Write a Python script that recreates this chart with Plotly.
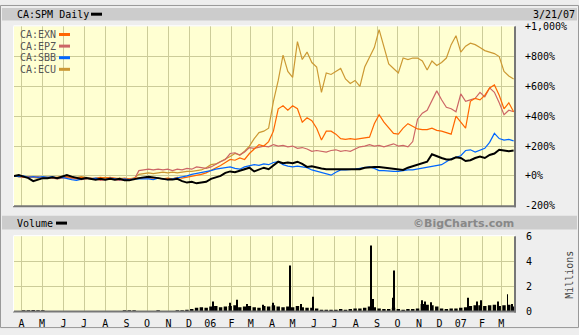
import pandas as pd
import plotly.graph_objects as go

W, H = 579, 335

# ---------------- data ----------------
start_date = "2005-03-21"
end_date = "2007-03-21"
n_weeks = 105
weeks = pd.date_range(start_date, periods=n_weeks, freq="7D")

ecu = [0, -5, -10, -5, -10, -15, -5, -10, -15, -10, -5, -10, -15, -10, -5, -10, -15, -20, -15, -10,
       -15, -20, -15, -20, -25,
       -15, 10, 15, 20, 15, 20, 25, 20, 25, 20, 25, 30, 30, 35, 40, 55,
       75, 80, 95, 110, 130, 150, 140, 165, 200, 250, 290, 300, 320,
       500, 640, 810, 700, 660, 900, 780, 830, 760, 730, 560, 690, 680, 700, 720, 650, 620, 640, 600, 730,
       790, 860, 980, 870, 750, 720, 690, 790, 780, 790, 790, 770, 710, 770, 740, 760, 790, 880, 940, 830,
       870, 890, 880, 860, 840, 830, 820, 800, 700, 670, 650]

exn = [0, -5, -5, -10, -5, -10, -15, -10, -10, -15, -10, -5, -10, -15, -10, -15, -20, -15, -10, -15,
       -10, -15, -20, -15, -20, -15,
       -15, -10, -15, -10, -15, -20, -15, -20, -10, -15, -10, -5, 0, 10, 20,
       35, 50, 70, 90, 110, 105, 120, 110, 150, 180, 210, 200, 230,
       300, 450, 470, 440, 470, 450, 360, 390, 370, 320, 240, 300, 300, 280, 250, 245, 250, 245, 250, 255,
       260, 350, 410, 360, 320, 285, 280, 320, 350, 330, 315, 310, 310, 320, 305, 300, 290,
       280, 400, 360, 320, 500, 520, 510, 540, 590, 610, 540, 450, 490, 430]

epz = [0, -5, -10, -5, -10, -5, -15, -10, -15, -20, -15, -10, -15, -20, -25, -20, -15, -20, -30, -25,
       -20, -25, -30, -25, -20, -25,
       35, 40, 45, 40, 45, 40, 45, 35, 45, 40, 50, 45, 60, 55, 50,
       60, 80, 95, 110, 150, 155, 140, 160, 190, 185, 190, 200, 195,
       210, 200, 205, 195, 200, 185, 190, 180, 165, 170, 165, 160, 170, 175, 165, 170, 165, 180, 195, 200,
       210, 200, 205, 195, 205, 215, 200, 205, 195, 230,
       380, 420, 440, 500, 570, 510, 460, 450, 430, 550, 500, 510, 520, 560, 530, 590, 560, 490, 410, 440, 430]

sbb = [0, -5, 0, -10, -5, -10, -5, -10, -5, -15, -10, -20, -25, -30, -20, -15, -20, -15, -20, -25,
       -15, -20, -25, -20, -25, -20,
       -20, -15, -20, -25, -15, -20, -25, -20, -15, -5, 0, 10, 15, 20, 30,
       35, 45, 50, 55, 60, 50, 45, 60, 70, 75, 70, 80, 75,
       90, 95, 75, 65, 60, 65, 60, 55, 40, 30, 20, 10, 5, 25, 40, 40, 40, 45, 50, 55,
       60, 50, 35, 35, 30, 30, 30, 35, 40, 40, 45, 50, 60, 65, 70, 75, 95,
       115, 125, 135, 170, 175, 160, 170, 185, 225, 285, 250, 240, 245, 235]

spm = [0, 5, -5, -15, -35, -25, -15, -15, -10, -15, -5, 5, -5, -10, -20, -15, -20, -25, -20, -25,
       -20, -25, -20, -30, -30, -20,
       -15, -10, -5, -10, -15, -20, -25, -25, -20, -35, -45, -40, -50, -45, -40,
       -20, -10, 0, 20, 30, 25, 35, 40, 55, 30, 40, 55, 45,
       70, 95, 85, 90, 85, 95, 80, 60, 65, 55, 50, 45, 45, 50, 45, 45, 45, 50, 45, 55,
       60, 60, 60, 55, 50, 45, 40, 40, 55, 65, 75, 85, 95, 145, 130, 120, 110,
       110, 125, 120, 100, 105, 120, 130, 120, 140, 150, 175, 170, 165, 170]

volume = [0.03, 0.03, 0.04, 0.05, 0.12, 0.1, 0.04, 0.03, 0.03, 0.02, 0.03, 0.02, 0.03, 0.02, 0.02,
          0.03, 0.02, 0.02, 0.03, 0.02, 0.02, 0.03, 0.02, 0.04, 0.06, 0.05, 0.03, 0.03, 0.02, 0.03,
          0.06, 0.03, 0.02, 0.03, 0.05,
          0.1, 0.15, 0.2, 0.3, 0.35, 0.3, 0.4, 0.45, 0.35, 0.4, 0.45, 0.5, 0.35, 0.4, 0.45, 0.35,
          0.3, 0.45, 0.4, 0.5, 0.4, 0.35, 0.4, 0.35, 0.45, 0.35, 0.3, 0.3, 0.25, 0.15, 0.15, 0.15,
          0.15, 0.2, 0.15, 0.2,
          0.25, 0.25, 0.3, 0.4, 0.35, 0.25, 0.2, 0.2, 0.3, 0.2, 0.15, 0.2, 0.2, 0.25, 0.6, 0.55,
          0.5, 0.4, 0.25, 0.2, 0.25, 0.25, 0.3, 0.35, 0.45, 0.5, 0.5, 0.45, 0.5, 0.55, 0.45, 0.5,
          0.55, 0.4]

spike_dates = ["2006-01-05", "2006-01-30", "2006-02-09", "2006-02-24", "2006-03-19", "2006-04-03",
               "2006-04-27", "2006-05-13", "2006-05-31", "2006-08-23", "2006-08-26", "2006-09-24",
               "2006-09-26", "2006-11-06", "2006-11-10", "2006-11-18", "2007-01-11", "2007-01-24",
               "2007-01-30", "2007-02-24", "2007-03-10", "2007-03-16"]
spike_values = [0.8, 0.7, 0.95, 0.6, 0.55, 0.7, 3.7, 0.6, 1.2, 5.3, 1.0, 1.1, 3.3, 0.9, 0.8, 0.75,
                1.1, 0.8, 0.9, 0.8, 1.4, 0.6]

month_ticks = ["2005-04-01", "2005-05-01", "2005-06-01", "2005-07-01", "2005-08-01", "2005-09-01",
               "2005-10-01", "2005-11-01", "2005-12-01", "2006-01-01", "2006-02-01", "2006-03-01",
               "2006-04-01", "2006-05-01", "2006-06-01", "2006-07-01", "2006-08-01", "2006-09-01",
               "2006-10-01", "2006-11-01", "2006-12-01", "2007-01-01", "2007-02-01", "2007-03-01"]
month_labels = ["A", "M", "J", "J", "A", "S", "O", "N", "D", "06", "F", "M",
                "A", "M", "J", "J", "A", "S", "O", "N", "D", "07", "F", "M"]

pct_ticks = [-200, 0, 200, 400, 600, 800, 1000]
pct_labels = ["-200%", "+0%", "+200%", "+400%", "+600%", "+800%", "+1,000%"]
vol_ticks = [0, 2, 4, 6]
vol_labels = ["0", "2", "4", "6"]

series_names = ["CA:EXN", "CA:EPZ", "CA:SBB", "CA:ECU"]
series_colors = ["#ff6600", "#cc6666", "#0066ff", "#cc9933"]

# ---------------- helpers ----------------
def px(x):
    return x / W

def py(y):
    return 1 - y / H

MONO = "DejaVu Sans Mono"
GRID = "#cccc99"
PLOT_BG = "#ffffd2"

fig = go.Figure()

for name, vals, col in zip(["CA:ECU", "CA:EPZ", "CA:EXN", "CA:SBB"],
                           [ecu, epz, exn, sbb],
                           ["#cc9933", "#cc6666", "#ff6600", "#0066ff"]):
    fig.add_trace(go.Scatter(x=weeks, y=vals, mode="lines", name=name,
                             line=dict(color=col, width=1.2), xaxis="x", yaxis="y"))
fig.add_trace(go.Scatter(x=weeks, y=spm, mode="lines", name="CA:SPM",
                         line=dict(color="#000000", width=2), xaxis="x", yaxis="y"))

fig.add_trace(go.Bar(x=weeks, y=volume, marker=dict(color="#000000", line=dict(width=0)),
                     width=5 * 86400000, xaxis="x2", yaxis="y2"))
fig.add_trace(go.Bar(x=pd.to_datetime(spike_dates), y=spike_values,
                     marker=dict(color="#000000", line=dict(width=0)),
                     width=1.3 * 86400000, xaxis="x2", yaxis="y2"))

x_dom = [px(14), px(515)]
xcommon = dict(domain=x_dom, range=[start_date, end_date], type="date",
               tickvals=month_ticks, showgrid=True, gridcolor=GRID, gridwidth=1,
               zeroline=False, showline=False, fixedrange=True)

fig.update_layout(
    width=W, height=H,
    margin=dict(l=0, r=0, t=0, b=0),
    paper_bgcolor="#eeeeee",
    plot_bgcolor=PLOT_BG,
    showlegend=False,
    barmode="overlay",
    font=dict(family=MONO, size=10, color="#000000"),
    xaxis=dict(**xcommon, anchor="y", showticklabels=False),
    xaxis2=dict(**xcommon, anchor="y2", ticktext=month_labels, showticklabels=True,
                ticks="", ticklabelstandoff=4, tickfont=dict(family=MONO, size=10)),
    yaxis=dict(domain=[py(208), py(22)], range=[-203, 1003], side="right", anchor="x",
               tickvals=pct_ticks, ticktext=pct_labels, showgrid=True, gridcolor=GRID,
               zeroline=False, ticks="", ticklabelstandoff=9, fixedrange=True),
    yaxis2=dict(domain=[py(317), py(239)], range=[0, 6.05], side="right", anchor="x2",
                tickvals=vol_ticks, ticktext=vol_labels, showgrid=True, gridcolor=GRID,
                zeroline=False, ticks="", ticklabelstandoff=10, fixedrange=True),
)

shapes = []
# outer border
shapes.append(dict(type="rect", xref="paper", yref="paper", x0=px(0.5), x1=px(578.5),
                   y0=py(333.5), y1=py(0.5), line=dict(color="#999999", width=1), layer="below"))
# header bars
shapes.append(dict(type="rect", xref="paper", yref="paper", x0=px(2), x1=px(577),
                   y0=py(16), y1=py(3), fillcolor="#cccccc", line=dict(width=0), layer="below"))
shapes.append(dict(type="rect", xref="paper", yref="paper", x0=px(2), x1=px(577),
                   y0=py(232), y1=py(218), fillcolor="#cccccc", line=dict(width=0), layer="below"))
# plot borders (shadow style)
for top, bot in [(22, 208), (239, 317)]:
    shapes.append(dict(type="line", xref="paper", yref="paper", x0=px(515), x1=px(515),
                       y0=py(bot + 1), y1=py(top), line=dict(color="#777777", width=2)))
    shapes.append(dict(type="line", xref="paper", yref="paper", x0=px(13), x1=px(516),
                       y0=py(bot), y1=py(bot), line=dict(color="#777777", width=2)))
    shapes.append(dict(type="line", xref="paper", yref="paper", x0=px(13.5), x1=px(13.5),
                       y0=py(bot), y1=py(top), line=dict(color="#ffffff", width=1)))
    shapes.append(dict(type="line", xref="paper", yref="paper", x0=px(13.5), x1=px(515),
                       y0=py(top - 0.5), y1=py(top - 0.5), line=dict(color="#ffffff", width=1)))

annotations = []
# header
annotations.append(dict(xref="paper", yref="paper", x=px(15), y=py(9.5), text="CA:SPM Daily",
                        showarrow=False, xanchor="left", yanchor="middle",
                        font=dict(family=MONO, size=10, color="#000000")))
shapes.append(dict(type="line", xref="paper", yref="paper", x0=px(91), x1=px(102),
                   y0=py(9.5), y1=py(9.5), line=dict(color="#000000", width=3)))
annotations.append(dict(xref="paper", yref="paper", x=px(577), y=py(9.5), text="3/21/07",
                        showarrow=False, xanchor="right", yanchor="middle",
                        font=dict(family=MONO, size=10, color="#000000")))
# legend in plot
for i, (nm, col) in enumerate(zip(series_names, series_colors)):
    yy = 30.5 + i * 12
    annotations.append(dict(xref="paper", yref="paper", x=px(18), y=py(yy), text=nm,
                            showarrow=False, xanchor="left", yanchor="middle",
                            font=dict(family=MONO, size=10, color="#555555")))
    shapes.append(dict(type="line", xref="paper", yref="paper", x0=px(59), x1=px(70),
                       y0=py(yy), y1=py(yy), line=dict(color=col, width=3)))
# volume header
annotations.append(dict(xref="paper", yref="paper", x=px(15), y=py(225.5), text="Volume",
                        showarrow=False, xanchor="left", yanchor="middle",
                        font=dict(family=MONO, size=10, color="#000000")))
shapes.append(dict(type="line", xref="paper", yref="paper", x0=px(56), x1=px(67),
                   y0=py(225.5), y1=py(225.5), line=dict(color="#000000", width=3)))
annotations.append(dict(xref="paper", yref="paper", x=px(516), y=py(225.5), text="©BigCharts.com",
                        showarrow=False, xanchor="right", yanchor="middle",
                        font=dict(family="DejaVu Sans", size=11, color="#888888", weight="bold")))
annotations.append(dict(xref="paper", yref="paper", x=px(570), y=py(279), text="Millions",
                        showarrow=False, textangle=-90, xanchor="center", yanchor="middle",
                        font=dict(family=MONO, size=10, color="#444444")))

fig.update_layout(shapes=shapes, annotations=annotations)
fig.write_html("out.html")
